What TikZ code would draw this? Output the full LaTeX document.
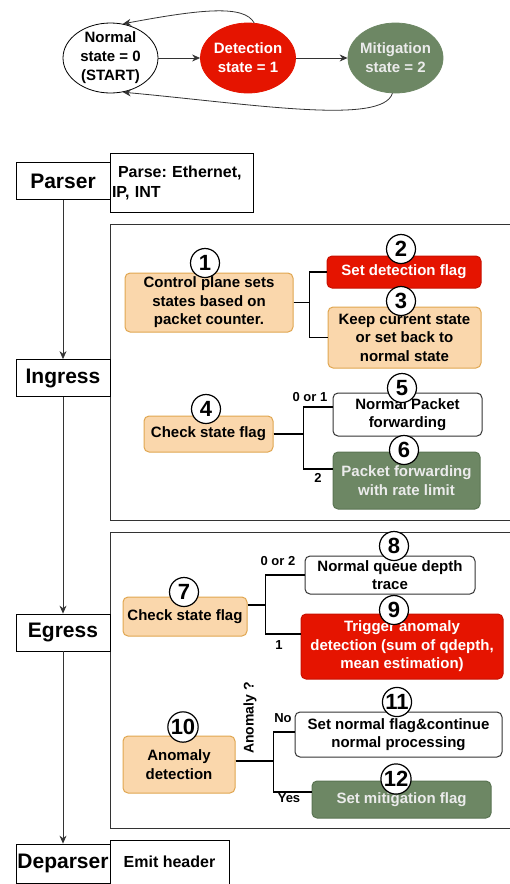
\documentclass[tikz,border=0pt]{standalone}
\usepackage{fontspec}
\setmainfont{Liberation Sans}
\usetikzlibrary{shapes.geometric,arrows.meta}
\frenchspacing
\definecolor{boxorange}{HTML}{FAD7AC}
\definecolor{lineorange}{HTML}{E0A650}
\definecolor{boxred}{HTML}{E51400}
\definecolor{linered}{HTML}{C81000}
\definecolor{boxgreen}{HTML}{6D8764}
\definecolor{linegreen}{HTML}{5A7452}
\definecolor{linegray}{HTML}{333333}
\tikzset{
state/.style={
	draw,
	ellipse,
	minimum width=95pt,
	minimum height=70pt,
	inner sep=-2pt,
	align=center,
	line width=0.8pt,
	font=\bfseries\fontsize{15}{19}\selectfont
}
}
\tikzset{
stage/.style={
	draw,
	rectangle,
	fill=white,
	minimum width=94pt,
	minimum height=37pt,
	inner sep=0pt,
	line width=0.8pt,
	font=\bfseries\fontsize{21}{21}\selectfont
}
}
\tikzset{
stepbox/.style={
	draw,
	rectangle,
	rounded corners=5pt,
	align=center,
	inner sep=0pt,
	line width=1pt,
	font=\bfseries\fontsize{15}{18.5}\selectfont
}
}
\tikzset{
orangebox/.style={stepbox, fill=boxorange, draw=lineorange},
redbox/.style={stepbox, fill=boxred, draw=linered, text=white},
greenbox/.style={stepbox, fill=boxgreen, draw=linegreen, text=white!92!black},
whitebox/.style={stepbox, fill=white, draw=linegray},
num/.style={
	draw,
	circle,
	fill=white,
	line width=1.2pt,
	minimum size=29pt,
	inner sep=0.5pt,
	font=\bfseries\fontsize{22}{22}\selectfont
},
lab/.style={inner sep=0pt, font=\bfseries\fontsize{13}{13}\selectfont},
flow/.style={draw=linegray, line width=0.8pt, -{Stealth[length=8pt,width=7pt]}},
branch/.style={draw=black, line width=1.8pt},
frame/.style={draw=linegray, line width=1pt}
}

\begin{document}
\begin{tikzpicture}[x=1pt,y=-1pt]
		\useasboundingbox (0,0) rectangle (510,884);
		% state machine
		\node[state] (normal) at (110.5,58) {Normal\\state = 0\\(START)};
		\node[state, fill=boxred, draw=boxred, text=white] (detect) at (248,58) {Detection\\state = 1};
		\node[state, fill=boxgreen, draw=boxgreen, text=white!92!black] (mitig) at (395.5,58) {Mitigation\\state = 2};
		\draw[flow] (normal) -- (detect);
		\draw[flow] (detect) -- (mitig);
		\draw[flow] (detect.80) .. controls +(-10,-18) and +(80,-15) .. (normal.70);
		\draw[flow] (mitig.265) .. controls +(-10,32) and +(130,12) .. (normal.290);
		% frames
		\draw[frame] (110,224) rectangle (515,520);
		\draw[frame] (110,532) rectangle (515,828);
		% pipeline stages
		\node[stage] (parser) at (63,181) {Parser};
		\node[stage, minimum height=59pt, minimum width=143pt, text width=139pt, inner sep=2pt, align=left,
			font=\bfseries\fontsize{16}{20}\selectfont] (parse) at (181.5,182.5) {\hspace{6pt}Parse: Ethernet,\\IP, INT};
		\node[stage] (ingress) at (63,378) {Ingress};
		\node[stage] (egress) at (63,632.5) {Egress};
		\node[stage, minimum height=39pt] (deparser) at (63,863.5) {Deparser};
		\node[stage, minimum height=44pt, minimum width=119pt, font=\bfseries\fontsize{16}{16}\selectfont] (emit) at (169.5,862) {Emit header};
		\draw[flow] (parser) -- (ingress);
		\draw[flow] (ingress) -- (egress);
		\draw[flow] (egress) -- (deparser);
		% ingress
		\node[orangebox, minimum width=168pt, minimum height=59pt] (n1) at (209,302.5) {Control plane sets\\states based on\\packet counter.};
		\node[redbox, minimum width=154pt, minimum height=32pt] (n2) at (404,272) {Set detection flag};
		\node[orangebox, minimum width=153pt, minimum height=61pt] (n3) at (404.5,337.5) {Keep current state\\or set back to\\normal state};
		\draw[branch] (n1.east) -- ++(16,0) |- (n2.west);
		\draw[branch] (n1.east) -- ++(16,0) |- (n3.west);
		\node[orangebox, minimum width=129pt, minimum height=36pt] (n4) at (208.5,434) {Check state flag};
		\node[whitebox, minimum width=149pt, minimum height=43pt] (n5) at (407.5,414.5) {Normal Packet\\forwarding};
		\node[greenbox, minimum width=147pt, minimum height=57pt] (n6) at (406.5,480.5) {Packet forwarding\\with rate limit};
		\draw[branch] (n4.east) -- ++(30,0) |- ([yshift=7.5pt]n5.west);
		\draw[branch] (n4.east) -- ++(30,0) |- ([yshift=11.5pt]n6.west);
		\node[lab] (l01) at (310,397) {0 or 1};
		\node[lab] (l2) at (318,478) {2};
		\node[num] (c1) at (205,263) {1};
		\node[num] (c2) at (401,249) {2};
		\node[num] (c3) at (401,301) {3};
		\node[num] (c4) at (206,409) {4};
		\node[num] (c5) at (402,388) {5};
		\node[num] (c6) at (404,450) {6};
		% egress
		\node[orangebox, minimum width=124pt, minimum height=39pt] (n7) at (185,616.5) {Check state flag};
		\node[whitebox, minimum width=170pt, minimum height=38pt] (n8) at (390,575) {Normal queue depth\\trace};
		\node[redbox, minimum width=202pt, minimum height=65pt] (n9) at (402,646.5) {Trigger anomaly\\detection (sum of qdepth,\\mean estimation)};
		\draw[branch] ([yshift=11.5pt]n7.east) -- ++(18,0) |- (n8.west);
		\draw[branch] ([yshift=11.5pt]n7.east) -- ++(18,0) |- ([yshift=12.5pt]n9.west);
		\node[lab] (l02) at (278,561) {0 or 2};
		\node[lab] (l1) at (279,645) {1};
		\node[orangebox, minimum width=112pt, minimum height=57pt] (n10) at (179,764.5) {Anomaly\\detection};
		\node[whitebox, minimum width=207pt, minimum height=45pt] (n11) at (398.5,734.5) {Set normal flag\&continue\\normal processing};
		\node[greenbox, minimum width=179pt, minimum height=37pt] (n12) at (401.5,799.5) {Set mitigation flag};
		\draw[branch] ([yshift=3.5pt]n10.east) -- ++(38,0) |- ([yshift=2.5pt]n11.west);
		\draw[branch] ([yshift=3.5pt]n10.east) -- ++(38,0) |- ([yshift=7.5pt]n12.west);
		\node[lab] (lno) at (283,718) {No};
		\node[lab] (lyes) at (289,798) {Yes};
		\node[lab, rotate=90, font=\bfseries\fontsize{14}{14}\selectfont] (lq) at (250,718) {Anomaly ?};
		\node[num] (c7) at (184,592) {7};
		\node[num] (c8) at (394,546) {8};
		\node[num] (c9) at (394,610) {9};
		\node[num] (c10) at (183,727) {10};
		\node[num] (c11) at (397,702) {11};
		\node[num] (c12) at (396,779) {12};
\end{tikzpicture}
\end{document}
